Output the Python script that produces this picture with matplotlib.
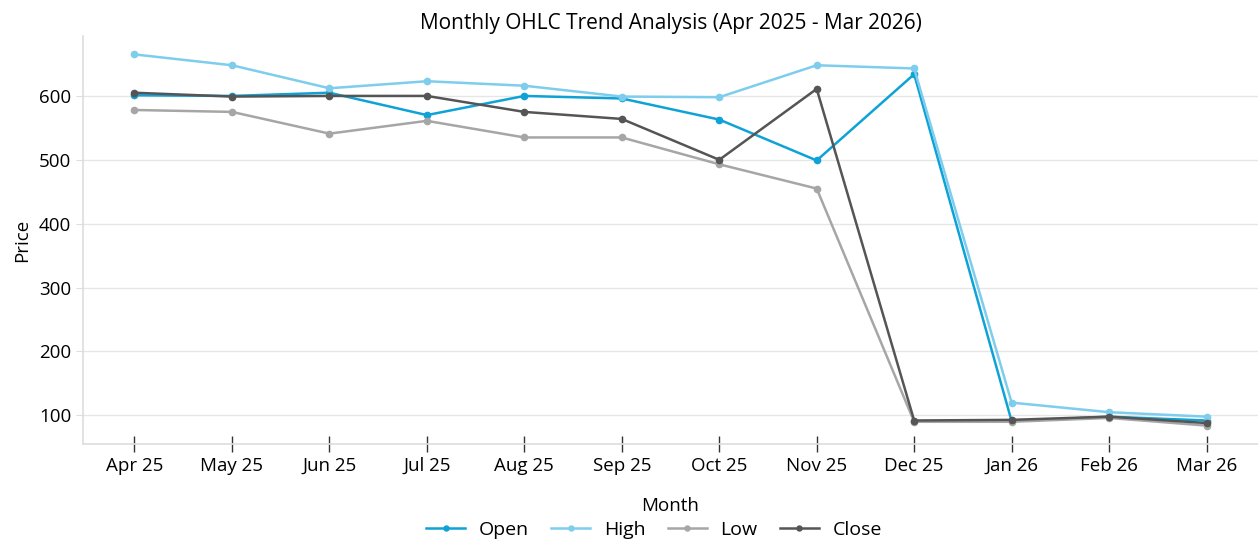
import matplotlib.pyplot as plt
import numpy as np

months = ['Apr 25', 'May 25', 'Jun 25', 'Jul 25', 'Aug 25', 'Sep 25',
          'Oct 25', 'Nov 25', 'Dec 25', 'Jan 26', 'Feb 26', 'Mar 26']
open_ = [601, 600, 605, 570, 600, 596, 563, 499, 634, 91, 98, 92]
high = [665, 648, 612, 623, 616, 599, 598, 648, 643, 120, 105, 98]
low = [578, 575, 541, 561, 535, 535, 493, 455, 90, 90, 96, 84]
close = [605, 599, 600, 600, 575, 564, 500, 611, 92, 93, 98, 88]

plt.rcParams['font.family'] = ['Open Sans', 'DejaVu Sans']

fig = plt.figure(figsize=(12.58, 5.43), dpi=100)
ax = fig.add_axes([0.066, 0.182, 0.934, 0.752])

x = np.arange(len(months))
series = [
    (open_, 'Open', '#0ea2d6'),
    (high, 'High', '#7ecdec'),
    (low, 'Low', '#a6a6a6'),
    (close, 'Close', '#555555'),
]
for vals, name, col in series:
    ax.plot(x, vals, color=col, lw=1.8, marker='o', markersize=4.5, label=name)

ax.set_xticks(x)
ax.set_xticklabels(months, fontsize=13.5)
ax.set_yticks([100, 200, 300, 400, 500, 600])
ax.tick_params(axis='y', labelsize=13.5, length=5, color='#dddddd')
ax.tick_params(axis='x', direction='inout', length=12, width=1, color='#333333', pad=3)
ax.margins(x=0.048, y=0.05)

ax.grid(axis='y', color='#e6e6e6', lw=1)
ax.set_axisbelow(True)
for s in ['top', 'right']:
    ax.spines[s].set_visible(False)
for s in ['left', 'bottom']:
    ax.spines[s].set_color('#dddddd')
    ax.spines[s].set_linewidth(1.2)

ax.set_title('Monthly OHLC Trend Analysis (Apr 2025 - Mar 2026)', fontsize=15, pad=5)
ax.set_xlabel('Month', fontsize=13.5, labelpad=16)
ax.set_ylabel('Price', fontsize=13.5, labelpad=6)

fig.legend(loc='lower center', ncol=4, bbox_to_anchor=(0.52, -0.025), frameon=False,
           fontsize=14, handlelength=2.0, columnspacing=1.15, handletextpad=0.7,
           markerscale=0.8)

fig.savefig('out.png', dpi=100)
